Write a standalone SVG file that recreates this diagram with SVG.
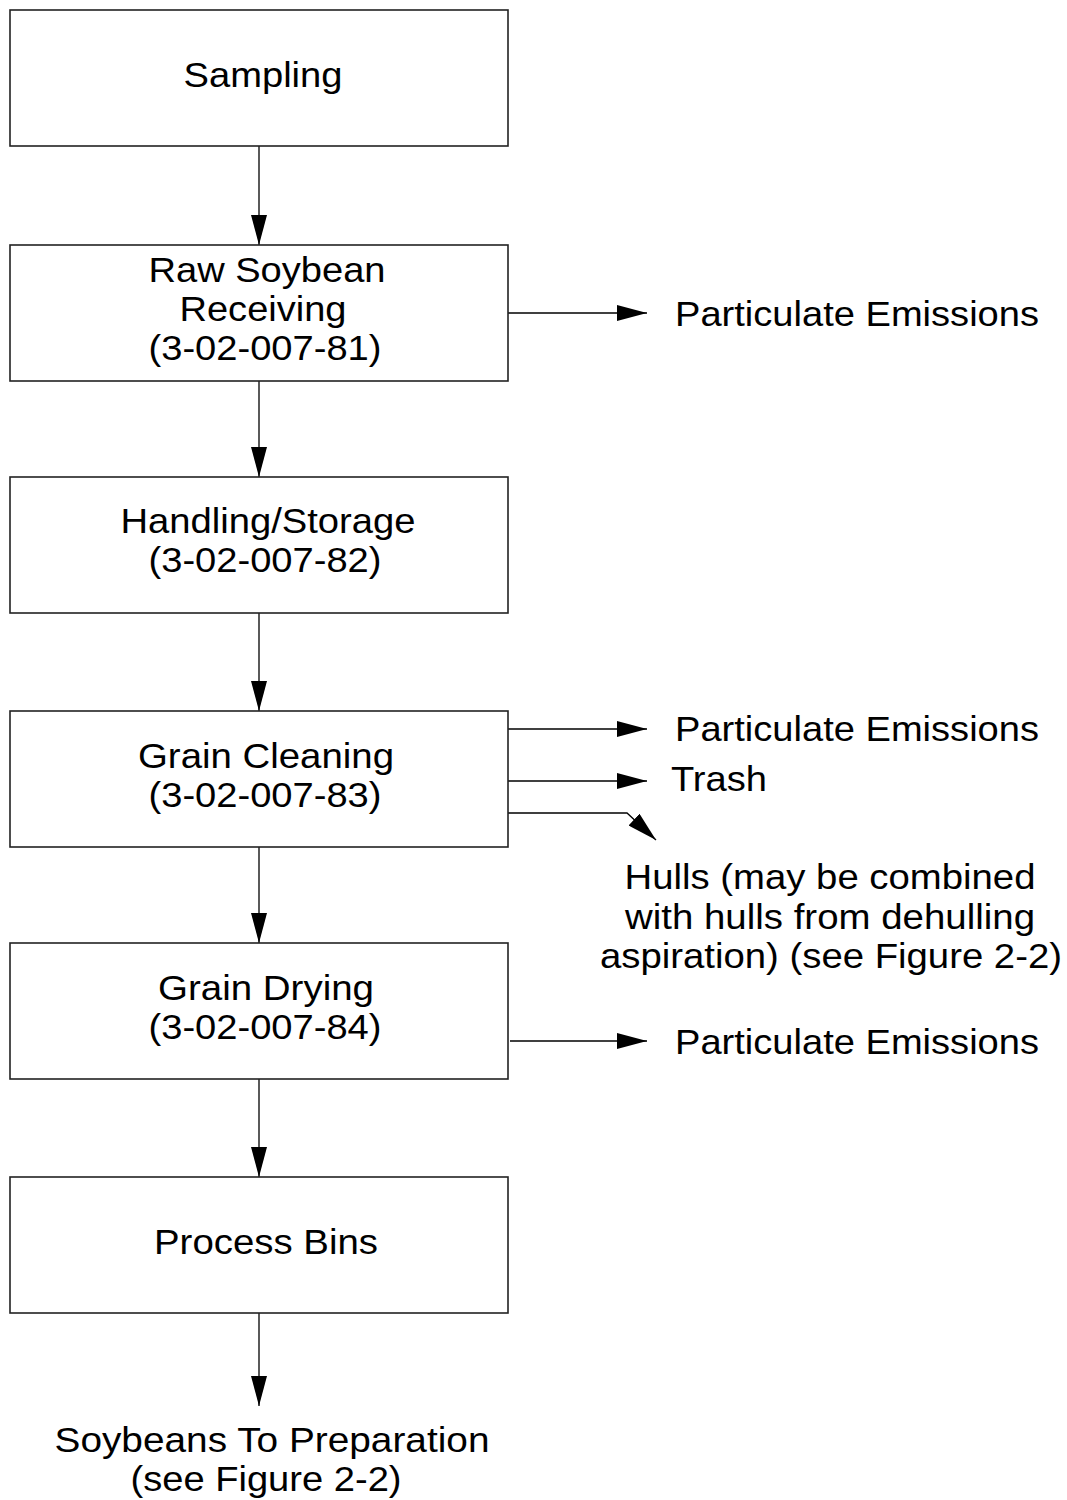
<svg xmlns="http://www.w3.org/2000/svg" width="1067" height="1500" viewBox="0 0 1067 1500">
<defs>
<marker id="ah" viewBox="0 0 30 16" refX="30" refY="8" markerWidth="30" markerHeight="16" markerUnits="userSpaceOnUse" orient="auto">
<path d="M0,0 L30,8 L0,16 Z" fill="#000"/>
</marker>
<style>
.box{fill:#fff;stroke:#222;stroke-width:1.6}
.t{font-family:"Liberation Sans",Arial,Helvetica,sans-serif;font-size:35px;fill:#000;text-anchor:middle}
.tl{font-family:"Liberation Sans",Arial,Helvetica,sans-serif;font-size:35px;fill:#000}
.c{fill:none;stroke:#000;stroke-width:1.3;marker-end:url(#ah)}
</style>
</defs>
<rect width="1067" height="1500" fill="#fff"/>
<g id="connectors">
<path class="c" d="M259,146 V245"/>
<path class="c" d="M259,381 V477"/>
<path class="c" d="M259,613 V711"/>
<path class="c" d="M259,847 V943"/>
<path class="c" d="M259,1079 V1177"/>
<path class="c" d="M259,1313 V1406"/>
<path class="c" d="M508,313 H647"/>
<path class="c" d="M508,729 H647"/>
<path class="c" d="M508,781 H647"/>
<path class="c" d="M508,813 H627 L656,840"/>
<path class="c" d="M510,1041 H647"/>
</g>
<g id="sampling">
<rect class="box" x="10" y="10" width="498" height="136"/>
<text class="t" x="263" y="87" textLength="159" lengthAdjust="spacingAndGlyphs">Sampling</text>
</g>
<g id="receiving">
<rect class="box" x="10" y="245" width="498" height="136"/>
<text class="t" x="267" y="282" textLength="237" lengthAdjust="spacingAndGlyphs">Raw Soybean</text>
<text class="t" x="263" y="321" textLength="167" lengthAdjust="spacingAndGlyphs">Receiving</text>
<text class="t" x="265" y="360" textLength="233" lengthAdjust="spacingAndGlyphs">(3-02-007-81)</text>
</g>
<g id="handling">
<rect class="box" x="10" y="477" width="498" height="136"/>
<text class="t" x="268" y="533" textLength="295" lengthAdjust="spacingAndGlyphs">Handling/Storage</text>
<text class="t" x="265" y="572" textLength="233" lengthAdjust="spacingAndGlyphs">(3-02-007-82)</text>
</g>
<g id="cleaning">
<rect class="box" x="10" y="711" width="498" height="136"/>
<text class="t" x="266" y="768" textLength="256" lengthAdjust="spacingAndGlyphs">Grain Cleaning</text>
<text class="t" x="265" y="807" textLength="233" lengthAdjust="spacingAndGlyphs">(3-02-007-83)</text>
</g>
<g id="drying">
<rect class="box" x="10" y="943" width="498" height="136"/>
<text class="t" x="266" y="1000" textLength="216" lengthAdjust="spacingAndGlyphs">Grain Drying</text>
<text class="t" x="265" y="1039" textLength="233" lengthAdjust="spacingAndGlyphs">(3-02-007-84)</text>
</g>
<g id="bins">
<rect class="box" x="10" y="1177" width="498" height="136"/>
<text class="t" x="266" y="1254" textLength="224" lengthAdjust="spacingAndGlyphs">Process Bins</text>
</g>
<g id="emissions1">
<text class="tl" x="675" y="326" textLength="364" lengthAdjust="spacingAndGlyphs">Particulate Emissions</text>
</g>
<g id="emissions2">
<text class="tl" x="675" y="741" textLength="364" lengthAdjust="spacingAndGlyphs">Particulate Emissions</text>
</g>
<g id="trash">
<text class="tl" x="671" y="791" textLength="96" lengthAdjust="spacingAndGlyphs">Trash</text>
</g>
<g id="hulls">
<text class="t" x="830" y="889" textLength="411" lengthAdjust="spacingAndGlyphs">Hulls (may be combined</text>
<text class="t" x="830" y="929" textLength="410" lengthAdjust="spacingAndGlyphs">with hulls from dehulling</text>
<text class="t" x="831" y="968" textLength="462" lengthAdjust="spacingAndGlyphs">aspiration) (see Figure 2-2)</text>
</g>
<g id="emissions3">
<text class="tl" x="675" y="1054" textLength="364" lengthAdjust="spacingAndGlyphs">Particulate Emissions</text>
</g>
<g id="preparation">
<text class="t" x="272" y="1452" textLength="435" lengthAdjust="spacingAndGlyphs">Soybeans To Preparation</text>
<text class="t" x="266" y="1491" textLength="271" lengthAdjust="spacingAndGlyphs">(see Figure 2-2)</text>
</g>
</svg>
